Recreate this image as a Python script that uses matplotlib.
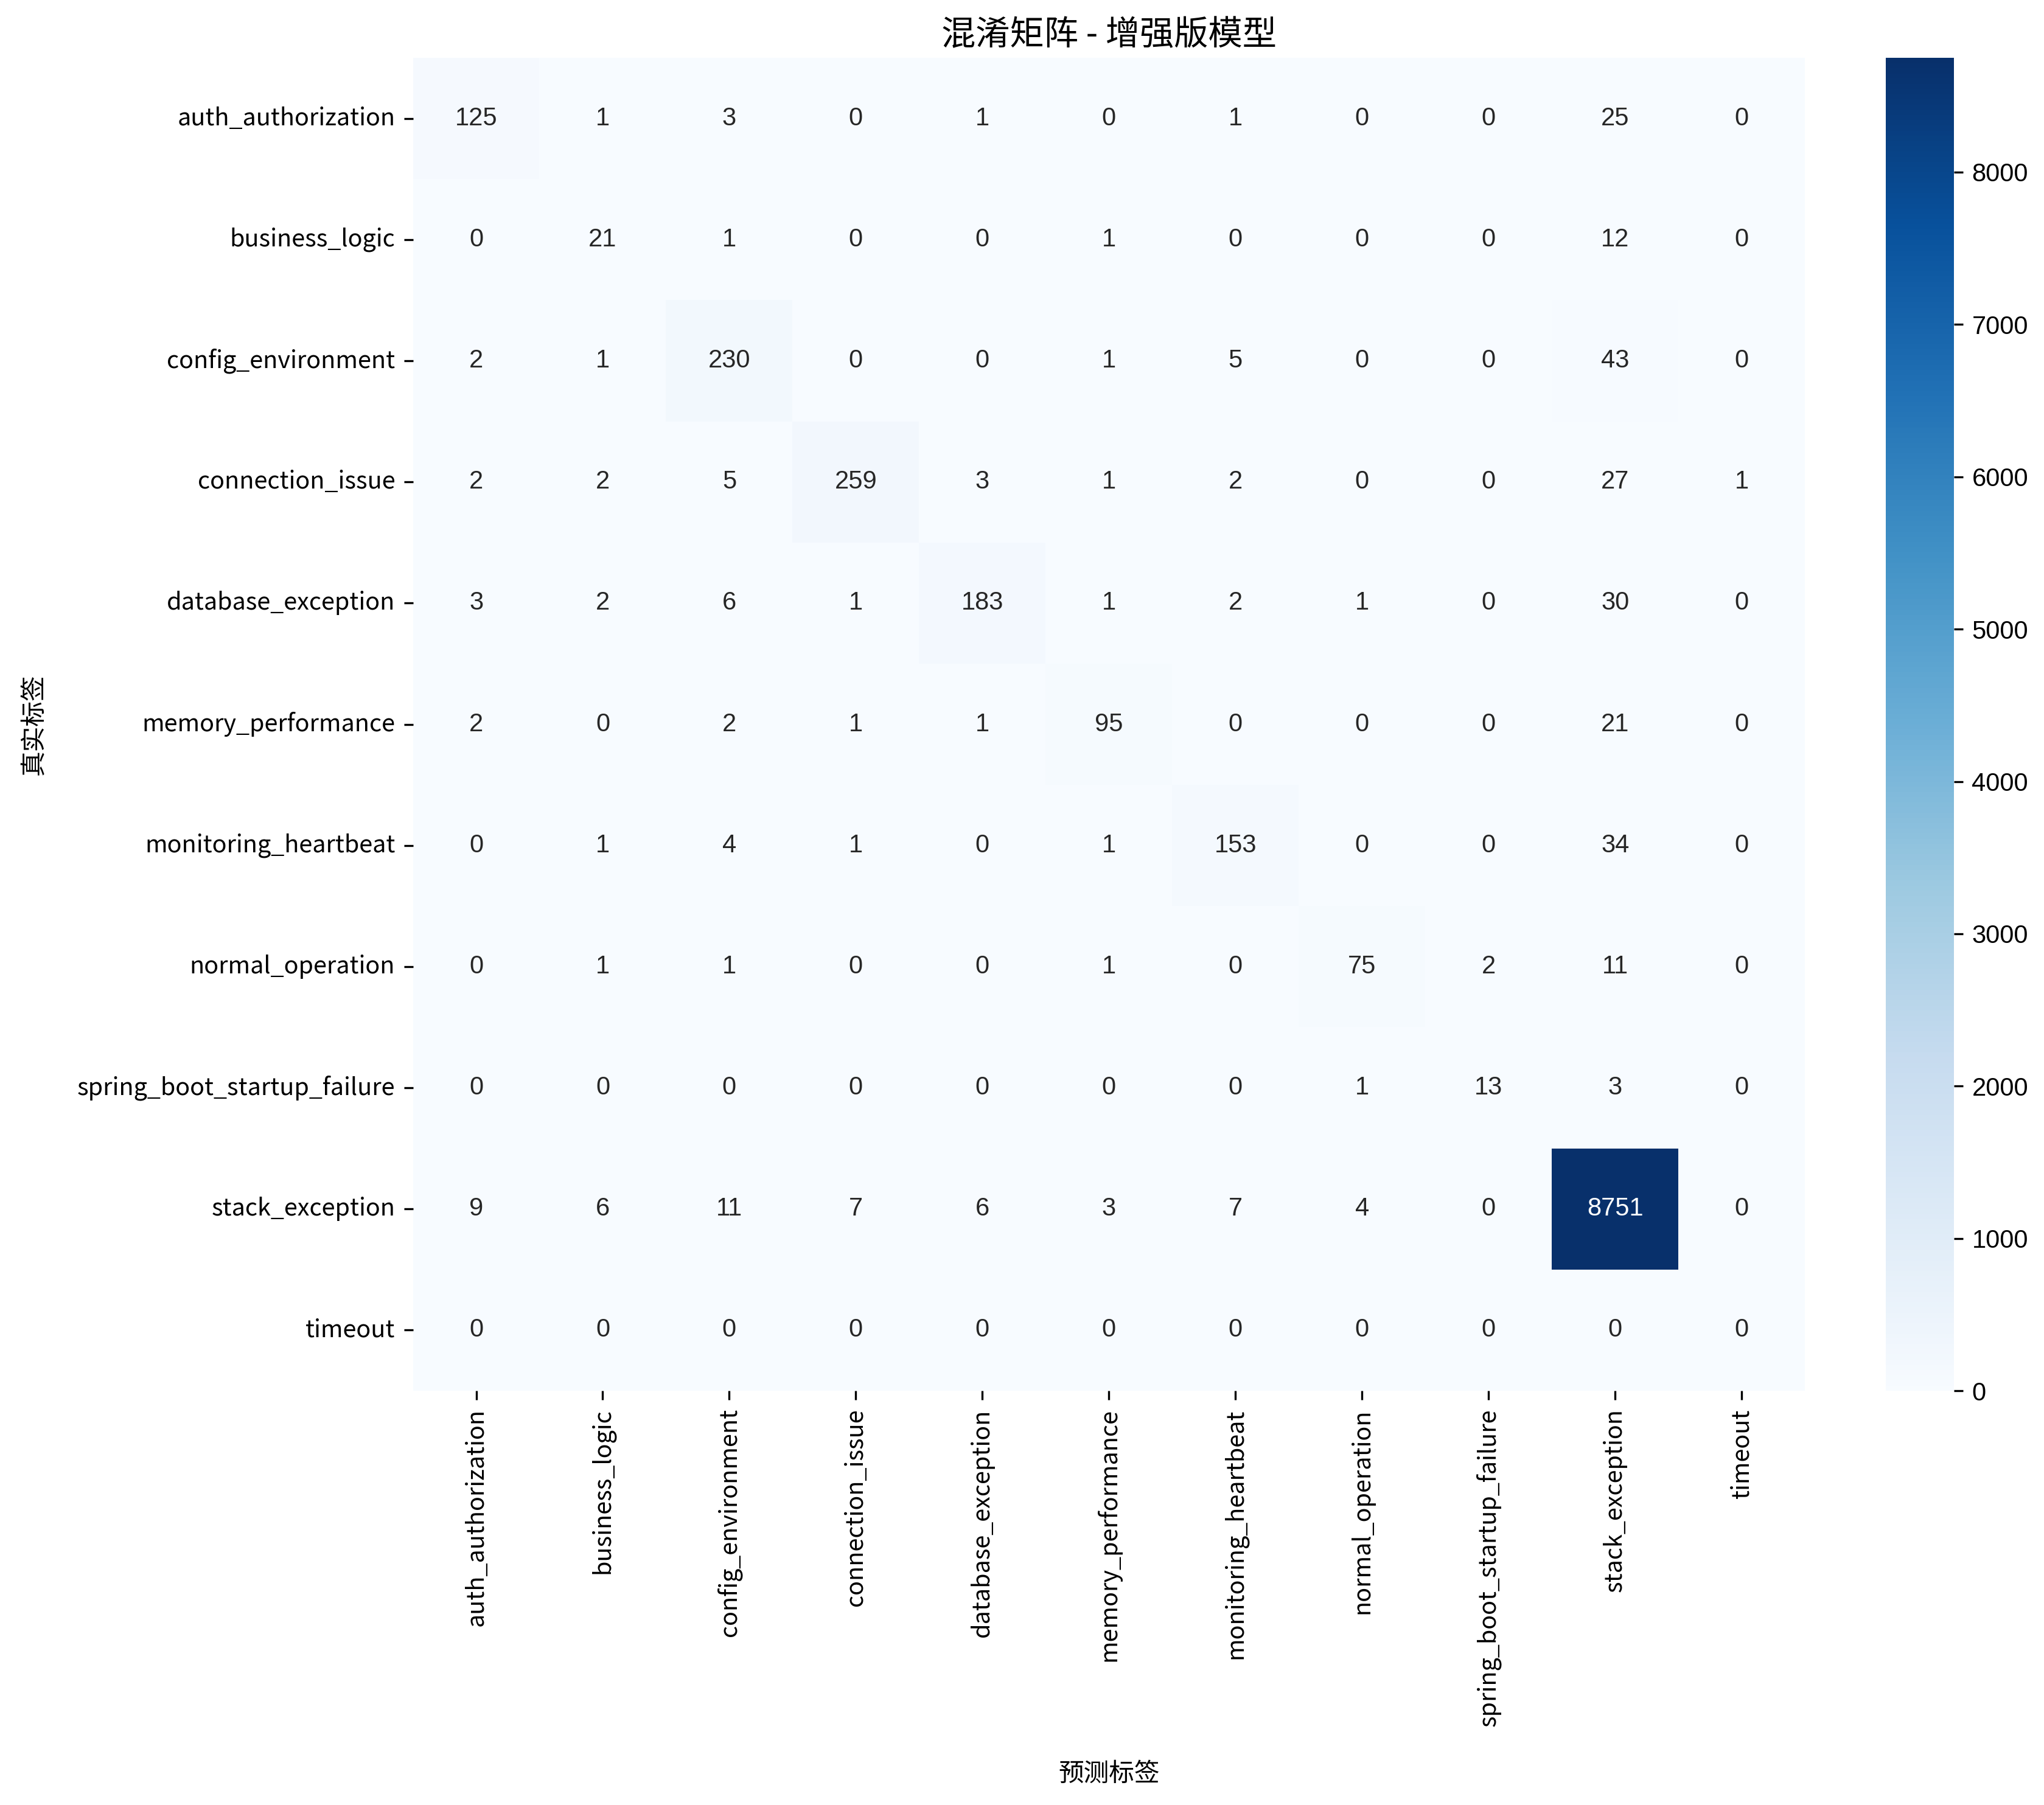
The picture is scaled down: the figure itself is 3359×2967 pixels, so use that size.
import numpy as np
import matplotlib
matplotlib.use('Agg')
import matplotlib.pyplot as plt
import seaborn as sns

# class labels and confusion matrix values
labels = ['auth_authorization', 'business_logic', 'config_environment',
          'connection_issue', 'database_exception', 'memory_performance',
          'monitoring_heartbeat', 'normal_operation',
          'spring_boot_startup_failure', 'stack_exception', 'timeout']

row_auth = [125, 1, 3, 0, 1, 0, 1, 0, 0, 25, 0]
row_business = [0, 21, 1, 0, 0, 1, 0, 0, 0, 12, 0]
row_config = [2, 1, 230, 0, 0, 1, 5, 0, 0, 43, 0]
row_connection = [2, 2, 5, 259, 3, 1, 2, 0, 0, 27, 1]
row_database = [3, 2, 6, 1, 183, 1, 2, 1, 0, 30, 0]
row_memory = [2, 0, 2, 1, 1, 95, 0, 0, 0, 21, 0]
row_monitoring = [0, 1, 4, 1, 0, 1, 153, 0, 0, 34, 0]
row_normal = [0, 1, 1, 0, 0, 1, 0, 75, 2, 11, 0]
row_spring = [0, 0, 0, 0, 0, 0, 0, 1, 13, 3, 0]
row_stack = [9, 6, 11, 7, 6, 3, 7, 4, 0, 8751, 0]
row_timeout = [0, 0, 0, 0, 0, 0, 0, 0, 0, 0, 0]

cm = np.array([row_auth, row_business, row_config, row_connection,
               row_database, row_memory, row_monitoring, row_normal,
               row_spring, row_stack, row_timeout])

plt.rcParams['font.family'] = ['Noto Sans CJK SC', 'DejaVu Sans']

fig = plt.figure(figsize=(11.197, 9.89), dpi=300)
ax = fig.add_axes([0.202, 0.2295, 0.681, 0.7385])
cax = fig.add_axes([0.9225, 0.2295, 0.0335, 0.7385])

sns.heatmap(cm, annot=True, fmt='d', cmap='Blues', ax=ax, cbar_ax=cax,
            xticklabels=labels, yticklabels=labels,
            annot_kws={'fontsize': 10, 'family': 'Liberation Sans'})

ax.set_title('混淆矩阵 - 增强版模型', fontsize=13.5, pad=5)
ax.set_xlabel('预测标签', fontsize=10, labelpad=14)
ax.set_ylabel('真实标签', fontsize=10, labelpad=12)
ax.tick_params(axis='both', labelsize=9.5)
plt.setp(ax.get_xticklabels(), rotation=90)
plt.setp(ax.get_yticklabels(), rotation=0)

cax.set_yticks(range(0, 9000, 1000))
cax.tick_params(labelsize=10)
for t in cax.get_yticklabels():
    t.set_family('Liberation Sans')

plt.savefig('out.png', dpi=300)
